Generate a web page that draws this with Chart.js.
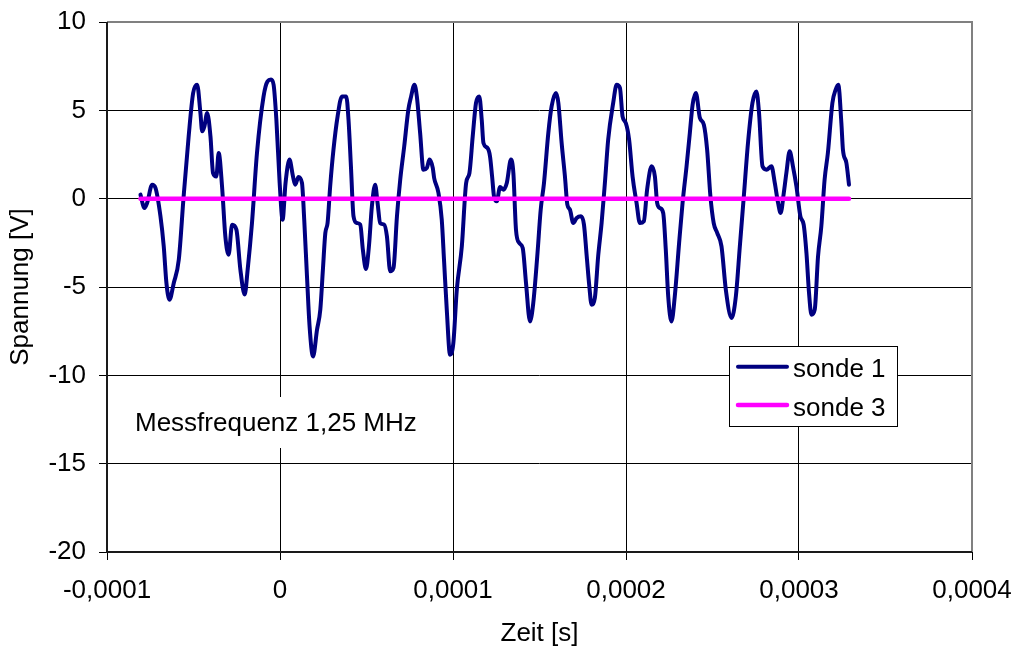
<!DOCTYPE html>
<html>
<head>
<meta charset="utf-8">
<script src="https://cdn.jsdelivr.net/npm/chart.js@4/dist/chart.umd.min.js"></script>
<style>
  html, body { margin: 0; padding: 0; background: #fff; }
  #wrap { width: 1018px; height: 651px; }
</style>
</head>
<body>
<div id="wrap"><canvas id="c" width="1018" height="651"></canvas></div>
<script>
// ---- data (time in microseconds, voltage in V) ----
const zeitUs = [-80.66, -78.35, -76.79, -73.9, -72.0, -69.1, -67.2, -65.65, -63.9, -61.4, -58.5, -55.7, -52.8, -50.2, -47.9, -46.0, -45.0, -43.7, -42.1, -40.2, -38.7, -36.8, -35.45, -33.5, -31.6, -29.7, -27.7, -25.2, -22.9, -20.4, -18.7, -16.2, -13.3, -9.5, -7.2, -5.2, -3.7, -2.1, -0.2, 1.5, 3.2, 5.5, 7.5, 8.8, 10.7, 12.7, 14.0, 15.6, 17.1, 19.1, 21.4, 23.3, 24.8, 26.2, 27.5, 29.0, 30.9, 33.3, 35.8, 38.3, 39.6, 41.0, 42.5, 44.5, 46.4, 47.9, 49.7, 51.4, 53.1, 55.0, 56.4, 57.9, 60.2, 61.8, 63.7, 65.6, 67.6, 69.5, 71.8, 74.2, 75.8, 77.7, 79.1, 81.0, 82.9, 84.9, 86.4, 88.3, 89.1, 91.6, 93.5, 94.9, 96.4, 98.3, 100.2, 102.2, 105.1, 107.6, 109.5, 111.4, 113.3, 115.2, 116.6, 117.6, 119.9, 121.4, 122.6, 123.7, 125.3, 127.2, 129.1, 131.1, 133.5, 134.9, 136.4, 138.3, 140.3, 142.2, 144.5, 146.4, 148.7, 150.7, 152.6, 155.1, 157.0, 159.5, 160.9, 162.8, 164.7, 166.1, 167.6, 169.5, 171.5, 174.0, 175.7, 177.3, 178.8, 180.1, 182.0, 183.9, 185.9, 187.8, 189.7, 192.6, 194.6, 196.5, 198.0, 199.9, 201.8, 203.8, 206.1, 208.0, 210.3, 212.2, 214.8, 216.7, 218.0, 219.6, 221.5, 223.0, 224.4, 226.3, 228.2, 230.7, 232.7, 235.0, 236.9, 238.5, 240.4, 242.7, 245.0, 246.9, 248.8, 250.7, 252.7, 255.2, 257.7, 261.0, 263.5, 265.8, 268.1, 270.6, 273.1, 275.4, 276.9, 278.9, 281.2, 284.1, 286.0, 287.9, 289.4, 291.2, 292.7, 294.6, 296.5, 298.5, 300.8, 302.7, 304.3, 305.8, 307.2, 309.1, 311.0, 312.9, 314.8, 316.7, 319.3, 321.2, 322.7, 324.5, 325.4, 327.4, 328.9];
const sonde1 = [0.23, -0.53, -0.24, 0.79, 0.61, -1.0, -2.7, -4.77, -5.72, -4.77, -3.45, 0.13, 3.53, 5.98, 6.45, 4.85, 3.81, 4.09, 4.85, 3.53, 1.45, 1.26, 2.59, 0.70, -2.13, -3.17, -1.47, -1.75, -4.02, -5.43, -4.02, -1.38, 2.59, 5.79, 6.64, 6.74, 6.45, 4.47, 0.89, -1.19, 0.89, 2.21, 1.26, 0.79, 1.23, 0.89, -1.19, -4.40, -7.23, -8.93, -7.42, -6.28, -4.02, -1.94, -1.38, 0.70, 2.77, 4.66, 5.79, 5.79, 4.47, 1.83, -1.0, -1.38, -1.47, -2.89, -3.98, -2.70, -0.44, 0.79, -0.24, -1.38, -1.47, -2.13, -4.11, -3.92, -1.0, 1.08, 2.96, 5.04, 5.79, 6.45, 5.79, 3.72, 1.64, 1.74, 2.21, 1.74, 1.17, 0.32, -1.19, -3.64, -6.28, -8.83, -8.17, -5.15, -2.70, 0.89, 1.45, 3.53, 5.42, 5.79, 4.47, 3.15, 2.87, 2.39, 1.26, 0.13, -0.15, 0.66, 0.51, 0.89, 2.21, 1.45, -1.75, -2.51, -2.79, -4.77, -6.95, -5.90, -3.27, -0.62, 0.89, 3.72, 5.22, 5.98, 5.42, 3.15, 1.26, -0.34, -0.62, -1.38, -1.09, -1.0, -1.47, -3.27, -4.96, -6.0, -5.62, -3.27, -1.38, 0.89, 3.34, 5.42, 6.45, 6.27, 4.66, 4.28, 3.34, 1.26, -0.24, -1.38, -1.28, 0.51, 1.83, 1.26, -0.24, -0.53, -0.81, -2.89, -5.53, -6.95, -5.53, -2.51, -0.24, 1.83, 3.72, 5.32, 5.98, 4.57, 4.19, 2.77, 0.13, -1.38, -1.94, -2.70, -5.15, -6.75, -5.53, -2.70, 0.13, 3.24, 5.42, 6.07, 4.85, 1.83, 1.64, 1.83, 0.89, -0.24, -0.81, 0.32, 1.45, 2.68, 1.83, 0.70, -1.0, -1.47, -3.07, -5.34, -6.57, -6.28, -3.27, -1.57, 1.08, 2.59, 5.42, 6.17, 6.45, 4.28, 2.77, 2.02, 0.79];
const zeit3Us = [-80.66, 328.9];
const sonde3 = [0, 0];
const seriesNames = ['sonde 1', 'sonde 3'];
const xTicks = [-0.0001, 0, 0.0001, 0.0002, 0.0003, 0.0004];
const yTicks = [-20, -15, -10, -5, 0, 5, 10];
const annotationText = 'Messfrequenz 1,25 MHz';
const xTitle = 'Zeit [s]';
const yTitle = 'Spannung [V]';

const FONT = '"Liberation Sans", Arial, sans-serif';
const FSIZE = 26;
Chart.defaults.font.family = FONT;
Chart.defaults.font.size = FSIZE;
Chart.defaults.color = '#000';

function toPoints(ts, vs) {
  const n = Math.min(ts.length, vs.length);
  const out = [];
  for (let i = 0; i < n; i++) out.push({ x: ts[i] * 1e-6, y: vs[i] });
  return out;
}

function fmtX(v) {
  if (Math.abs(v) < 1e-12) return '0';
  return v.toFixed(4).replace('.', ',');
}

function zeroPad(scale) {
  scale.paddingTop = 0; scale.paddingBottom = 0;
  scale.paddingLeft = 0; scale.paddingRight = 0;
}

const framePlugin = {
  id: 'frame',
  beforeDatasetsDraw(chart) {
    const { ctx, chartArea: a } = chart;
    ctx.save();
    ctx.lineWidth = 2;
    ctx.strokeStyle = '#808080';
    ctx.beginPath();
    ctx.moveTo(a.left, a.top);
    ctx.lineTo(a.right, a.top);
    ctx.lineTo(a.right, a.bottom);
    ctx.stroke();
    ctx.strokeStyle = '#1a1a1a';
    ctx.beginPath();
    ctx.moveTo(a.left, a.top);
    ctx.lineTo(a.left, a.bottom);
    ctx.lineTo(a.right, a.bottom);
    ctx.stroke();
    // annotation box
    ctx.fillStyle = '#fff';
    ctx.fillRect(a.left + 21, a.top + 375, 302, 51);
    ctx.fillStyle = '#000';
    ctx.font = FSIZE + 'px ' + FONT;
    ctx.textBaseline = 'alphabetic';
    ctx.textAlign = 'left';
    ctx.fillText(annotationText, a.left + 28, a.top + 409);
    ctx.restore();
  }
};

const legendPlugin = {
  id: 'boxLegend',
  afterDraw(chart) {
    const { ctx, chartArea: a } = chart;
    const bx = a.left + 622, by = a.top + 324, bw = 168, bh = 80;
    ctx.save();
    ctx.fillStyle = '#fff';
    ctx.fillRect(bx, by, bw, bh);
    ctx.strokeStyle = '#000';
    ctx.lineWidth = 1;
    ctx.strokeRect(bx + 0.5, by + 0.5, bw, bh);
    ctx.font = FSIZE + 'px ' + FONT;
    ctx.textAlign = 'left';
    ctx.textBaseline = 'alphabetic';
    const rows = [by + 20.7, by + 59];
    chart.data.datasets.forEach((ds, i) => {
      const y = rows[i];
      ctx.strokeStyle = ds.borderColor;
      ctx.lineWidth = ds.borderWidth;
      ctx.lineCap = 'round';
      ctx.beginPath();
      ctx.moveTo(bx + 9, y);
      ctx.lineTo(bx + 58, y);
      ctx.stroke();
      ctx.fillStyle = '#000';
      ctx.fillText(ds.label, bx + 64, y + 10.5);
    });
    ctx.restore();
  }
};

new Chart(document.getElementById('c'), {
  type: 'line',
  data: {
    datasets: [
      {
        label: seriesNames[0],
        data: toPoints(zeitUs, sonde1),
        borderColor: '#000080',
        borderWidth: 4,
        pointRadius: 0,
        cubicInterpolationMode: 'monotone',
        borderJoinStyle: 'round',
        borderCapStyle: 'round',
        fill: false,
        order: 1
      },
      {
        label: seriesNames[1],
        data: toPoints(zeit3Us, sonde3),
        borderColor: '#FF00FF',
        borderWidth: 4.5,
        pointRadius: 0,
        borderCapStyle: 'round',
        fill: false,
        order: 0
      }
    ]
  },
  options: {
    responsive: false,
    animation: false,
    layout: { padding: { top: 22, right: 46, left: 0, bottom: 0 } },
    plugins: { legend: { display: false }, tooltip: { enabled: false } },
    scales: {
      x: {
        type: 'linear',
        min: xTicks[0],
        max: xTicks[xTicks.length - 1],
        afterBuildTicks(scale) { scale.ticks = xTicks.map(v => ({ value: v })); },
        afterFit(scale) { scale.height = 99; zeroPad(scale); },
        ticks: { callback: fmtX, padding: 15.6, maxRotation: 0, autoSkip: false, color: '#000' },
        grid: { color: '#000', lineWidth: 1, tickLength: 8, drawTicks: true },
        border: { display: false },
        title: { display: true, text: xTitle, color: '#000', padding: { top: 0, bottom: 1.8 } }
      },
      y: {
        type: 'linear',
        min: yTicks[0],
        max: yTicks[yTicks.length - 1],
        afterBuildTicks(scale) { scale.ticks = yTicks.map(v => ({ value: v })); },
        afterFit(scale) { scale.width = 107; zeroPad(scale); },
        ticks: { callback: v => String(v), padding: 13, autoSkip: false, color: '#000' },
        grid: { color: '#000', lineWidth: 1, tickLength: 8, drawTicks: true },
        border: { display: false },
        title: { display: true, text: yTitle, color: '#000', padding: { top: 5, bottom: 0 } }
      }
    }
  },
  plugins: [framePlugin, legendPlugin]
});
</script>
</body>
</html>
